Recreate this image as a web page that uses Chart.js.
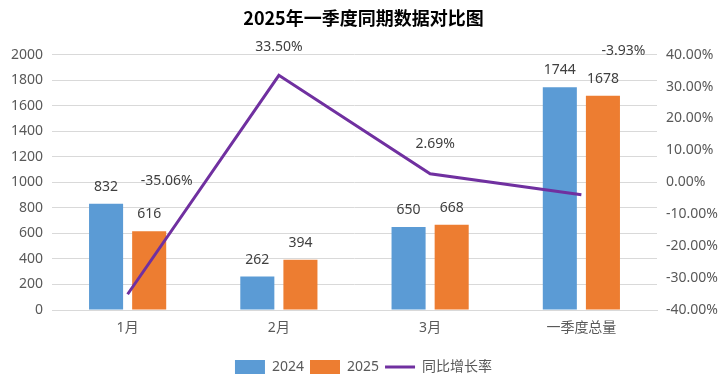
<!DOCTYPE html>
<html><head><meta charset="utf-8">
<script src="https://cdn.jsdelivr.net/npm/chart.js@4"></script>
<style>html,body{margin:0;padding:0;background:#fff}#w{width:727px;height:380px}</style>
</head><body><div id="w"><canvas id="c"></canvas></div>
<script>
const categories = ['1月', '2月', '3月', '一季度总量'];
const values2024 = [832, 262, 650, 1744];
const values2025 = [616, 394, 668, 1678];
const growthRate = [-35.06, 33.50, 2.69, -3.93];
const leftTicks = [0, 200, 400, 600, 800, 1000, 1200, 1400, 1600, 1800, 2000];
const rightTicks = [-40, -30, -20, -10, 0, 10, 20, 30, 40];
// label offsets (px) for line labels, relative to point
const lineLabelOffsets = [[39, -113], [0, -28], [5, -30], [42, -144]];

const FONT = "'Noto Sans', 'Noto Sans CJK SC', sans-serif";
const TXT = '#404040';

const labelPlugin = {
  id: 'labels',
  afterDatasetsDraw(chart) {
    const ctx = chart.ctx;
    ctx.save();
    ctx.font = '14px ' + FONT;
    ctx.fillStyle = TXT;
    ctx.textAlign = 'center';
    ctx.textBaseline = 'middle';
    [0, 1].forEach(di => {
      const meta = chart.getDatasetMeta(di);
      meta.data.forEach((el, i) => {
        ctx.fillText(String(chart.data.datasets[di].data[i]), el.x, el.y - 17);
      });
    });
    const lm = chart.getDatasetMeta(2);
    lm.data.forEach((el, i) => {
      const o = lineLabelOffsets[i];
      ctx.fillText(growthRate[i].toFixed(2) + '%', el.x + o[0], el.y + o[1]);
    });
    ctx.restore();
  }
};

new Chart(document.getElementById('c'), {
  data: {
    labels: categories,
    datasets: [
      { type: 'bar', label: '2024', data: values2024, backgroundColor: '#5B9BD5', yAxisID: 'y', order: 2,
        categoryPercentage: 0.57, barPercentage: 0.79 },
      { type: 'bar', label: '2025', data: values2025, backgroundColor: '#ED7D31', yAxisID: 'y', order: 2,
        categoryPercentage: 0.57, barPercentage: 0.79 },
      { type: 'line', label: '同比增长率', data: growthRate, borderColor: '#7030A0', backgroundColor: '#7030A0',
        borderWidth: 3, pointRadius: 0, yAxisID: 'y1', order: 1, tension: 0 }
    ]
  },
  options: {
    responsive: true, maintainAspectRatio: false, animation: false,
    layout: { padding: { left: 0, right: 0, top: 0, bottom: -4 } },
    plugins: {
      title: { display: true, text: '2025年一季度同期数据对比图', color: '#000',
        font: { family: "'Noto Sans CJK SC', sans-serif", size: 18, weight: 'bold' }, padding: { top: 7, bottom: 26 } },
      legend: { position: 'bottom',
        labels: { color: '#595959', font: { family: FONT, size: 14 }, usePointStyle: true, pointStyleWidth: 30,
          boxHeight: 14, padding: 6,
          generateLabels(chart) {
            return chart.data.datasets.map((d, i) => ({
              text: d.label, fillStyle: d.backgroundColor, strokeStyle: d.type === 'line' ? d.borderColor : d.backgroundColor,
              lineWidth: d.type === 'line' ? 3 : 0, datasetIndex: i, fontColor: '#595959',
              pointStyle: d.type === 'line' ? 'line' : 'rect'
            }));
          } } },
      tooltip: { enabled: false }
    },
    scales: {
      x: { grid: { display: false, drawTicks: false }, border: { color: '#D9D9D9' },
        afterFit(s) { s.height = 44; },
        ticks: { color: '#595959', font: { family: FONT, size: 14 }, padding: 10 } },
      y: { position: 'left', min: 0, max: 2000,
        afterBuildTicks(s) { s.ticks = leftTicks.map(v => ({ value: v })); },
        afterFit(s) { s.width = 52; },
        grid: { color: '#D9D9D9', drawTicks: false }, border: { display: false },
        ticks: { color: '#595959', font: { family: FONT, size: 14 }, padding: 9, callback: v => String(v) } },
      y1: { position: 'right', min: -40, max: 40,
        afterBuildTicks(s) { s.ticks = rightTicks.map(v => ({ value: v })); },
        afterFit(s) { s.width = 70; },
        grid: { display: false, drawTicks: false }, border: { display: false },
        ticks: { color: '#595959', font: { family: FONT, size: 14 }, padding: 9, callback: v => v.toFixed(2) + '%' } }
    }
  },
  plugins: [labelPlugin]
});
</script>
</body></html>
